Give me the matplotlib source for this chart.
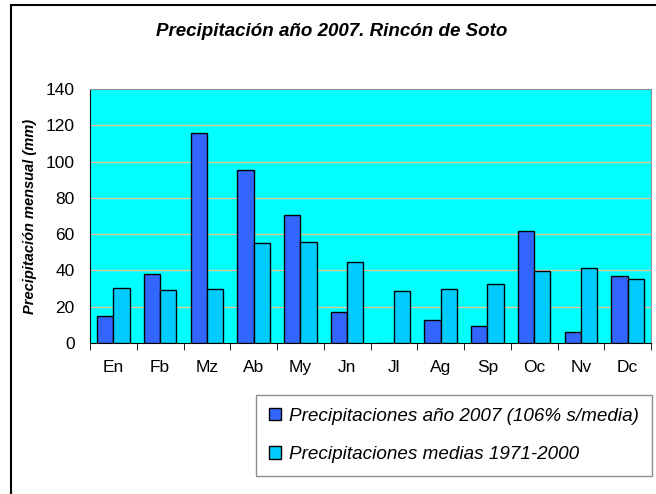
import matplotlib.pyplot as plt
from matplotlib.patches import Rectangle
import numpy as np

plt.rcParams['font.family'] = ['Liberation Sans', 'DejaVu Sans']

meses = ['En', 'Fb', 'Mz', 'Ab', 'My', 'Jn', 'Jl', 'Ag', 'Sp', 'Oc', 'Nv', 'Dc']
precip_2007 = [15, 38, 116, 95.5, 70.5, 17, 0, 12.5, 9.5, 61.5, 6, 37]
precip_media = [30.5, 29, 30, 55, 55.5, 44.5, 28.5, 29.5, 32.5, 39.5, 41.5, 35.5]
yticks = [0, 20, 40, 60, 80, 100, 120, 140]

fig = plt.figure(figsize=(6.56, 4.94), dpi=100)
ax = fig.add_axes([90 / 656, 151 / 494, 561 / 656, 254 / 494])
ax.set_facecolor('#00FFFF')

x = np.arange(len(meses))
w = 0.35
ax.bar(x - w / 2, precip_2007, w, color='#3366FF', edgecolor='black', lw=1,
       label='Precipitaciones año 2007 (106% s/media)', zorder=3)
ax.bar(x + w / 2, precip_media, w, color='#00CCFF', edgecolor='black', lw=1,
       label='Precipitaciones medias 1971-2000', zorder=3)

ax.set_xlim(-0.5, len(meses) - 0.5)
ax.set_ylim(0, 140)
ax.set_yticks(yticks)
ax.set_xticks(x)
ax.set_xticklabels(meses)
ax.set_xticks(np.arange(len(meses) + 1) - 0.5, minor=True)
ax.tick_params(axis='x', which='major', length=0, pad=12, labelsize=12.5)
ax.tick_params(axis='x', which='minor', length=5, direction='out', color='black')
ax.tick_params(axis='y', length=0, pad=11, labelsize=12.5)
for v in yticks[1:-1]:
    ax.axhline(v, color='#E8C89A', lw=1, zorder=1)

for s in ['top', 'right']:
    ax.spines[s].set_color('#909090')
for s in ['left', 'bottom']:
    ax.spines[s].set_color('black')

ax.set_ylabel('Precipitación mensual (mm)', fontsize=10.5, fontweight='bold',
              fontstyle='italic', labelpad=6)
fig.text(332 / 656, 1 - 32 / 494, 'Precipitación año 2007. Rincón de Soto',
         ha='center', va='center', fontsize=13.5, fontweight='bold', fontstyle='italic')

# outer chart frame (clipped on the right and bottom)
fig.patches.append(Rectangle((11 / 656, -0.1), 2, 1 - 5 / 494 + 0.1, transform=fig.transFigure,
                             fill=False, edgecolor='black', lw=1.5))

leg = fig.legend(loc='upper left', bbox_to_anchor=(256 / 656, 1 - 395 / 494),
                 prop={'style': 'italic', 'size': 13.6}, fancybox=False,
                 edgecolor='#707070', handlelength=0.64, handleheight=0.64,
                 handletextpad=0.45, labelspacing=1.14, borderpad=0.68, borderaxespad=0)
leg.get_frame().set_linewidth(1)

fig.savefig('out.png', dpi=100)
